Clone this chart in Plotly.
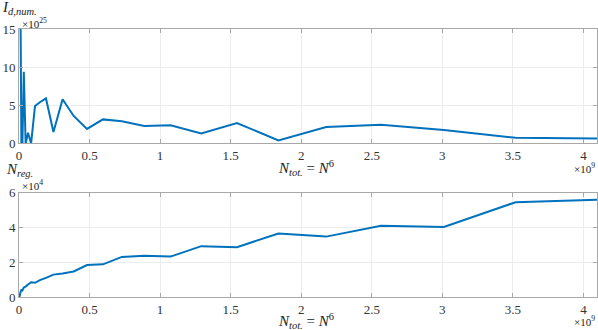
import plotly.graph_objects as go
from plotly.subplots import make_subplots

# N values, N_tot = N^6
N = list(range(12, 41))
n_tot = [n ** 6 for n in N]

# I_d,num. in units of 1e25 (values above 15 are clipped by the axis)
i_dnum = [40, 32, 26, 20, 0, 0, 9.4, 0, 1.4, 0, 4.9, 5.4, 5.9, 1.5, 5.8, 3.6,
          1.9, 3.15, 2.9, 2.3, 2.37, 1.3, 2.67, 0.4, 2.14, 2.45, 1.75, 0.74, 0.66]

# N_reg. in units of 1e4
n_reg = [0.0, 0.1, 0.2, 0.3, 0.4, 0.38, 0.55, 0.6, 0.72, 0.85, 0.82, 0.97, 1.1,
         1.29, 1.36, 1.47, 1.84, 1.88, 2.31, 2.38, 2.33, 2.93, 2.87, 3.66, 3.48,
         4.1, 4.04, 5.46, 5.6]

x_ticks = [0, 0.5, 1, 1.5, 2, 2.5, 3, 3.5, 4]

blue = "#0072BD"
serif = "Liberation Serif"

fig = make_subplots(rows=2, cols=1, vertical_spacing=0.18)

fig.add_trace(go.Scatter(x=n_tot, y=i_dnum, mode="lines",
                         line=dict(color=blue, width=2)),
              row=1, col=1)
fig.add_trace(go.Scatter(x=n_tot, y=n_reg, mode="lines",
                         line=dict(color=blue, width=2)),
              row=2, col=1)

axis_common = dict(
    showline=True, linecolor="#a8a8a8", linewidth=1, mirror="ticks",
    ticks="inside", ticklen=4, tickcolor="#a8a8a8",
    showgrid=True, gridcolor="#ececec", gridwidth=1,
    zeroline=False,
    tickfont=dict(family=serif, size=13, color="#333333"),
)

for r in (1, 2):
    fig.update_xaxes(range=[0, 4.096e9],
                     tickvals=[v * 1e9 for v in x_ticks],
                     ticktext=[f"{v:g}" for v in x_ticks],
                     row=r, col=1, **axis_common)

fig.update_yaxes(range=[0, 15], tickvals=[0, 5, 10, 15], row=1, col=1, **axis_common)
fig.update_yaxes(range=[0, 6], tickvals=[0, 2, 4, 6], row=2, col=1, **axis_common)

fig.update_layout(
    width=598, height=330,
    margin=dict(l=19, r=1, t=29, b=33),
    paper_bgcolor="white", plot_bgcolor="white",
    showlegend=False,
)
fig.update_layout(
    yaxis=dict(domain=[0.573, 1.0]),
    yaxis2=dict(domain=[0.0, 0.3885]),
)

txt = dict(family=serif, color="#222222")


def note(text, x, y, size, xanchor="left"):
    fig.add_annotation(text=text, xref="paper", yref="paper",
                       x=x, y=y, xanchor=xanchor, yanchor="middle",
                       showarrow=False, font=dict(size=size, **txt))


# paper coords: x over [19, 597] px, y over [29, 297] px from top
def px(xp, yp):
    return (xp - 19) / 578, (297 - yp) / 268


note("<i>I</i><sub><i>d,num.</i></sub>", *px(0, 8), 15)
note("×10<sup>25</sup>", *px(20, 23), 11)
note("<i>N</i><sub><i>tot.</i></sub> = <i>N</i><sup>6</sup>", *px(306, 168), 15, "center")
note("×10<sup>9</sup>", *px(597, 168), 11, "right")

note("<i>N</i><sub><i>reg.</i></sub>", *px(4, 170), 15)
note("×10<sup>4</sup>", *px(20, 185), 11)
note("<i>N</i><sub><i>tot.</i></sub> = <i>N</i><sup>6</sup>", *px(306, 321), 15, "center")
note("×10<sup>9</sup>", *px(597, 321), 11, "right")

fig.write_html("out.html", config={"displayModeBar": False},
               post_script="document.body.style.margin='0';")
